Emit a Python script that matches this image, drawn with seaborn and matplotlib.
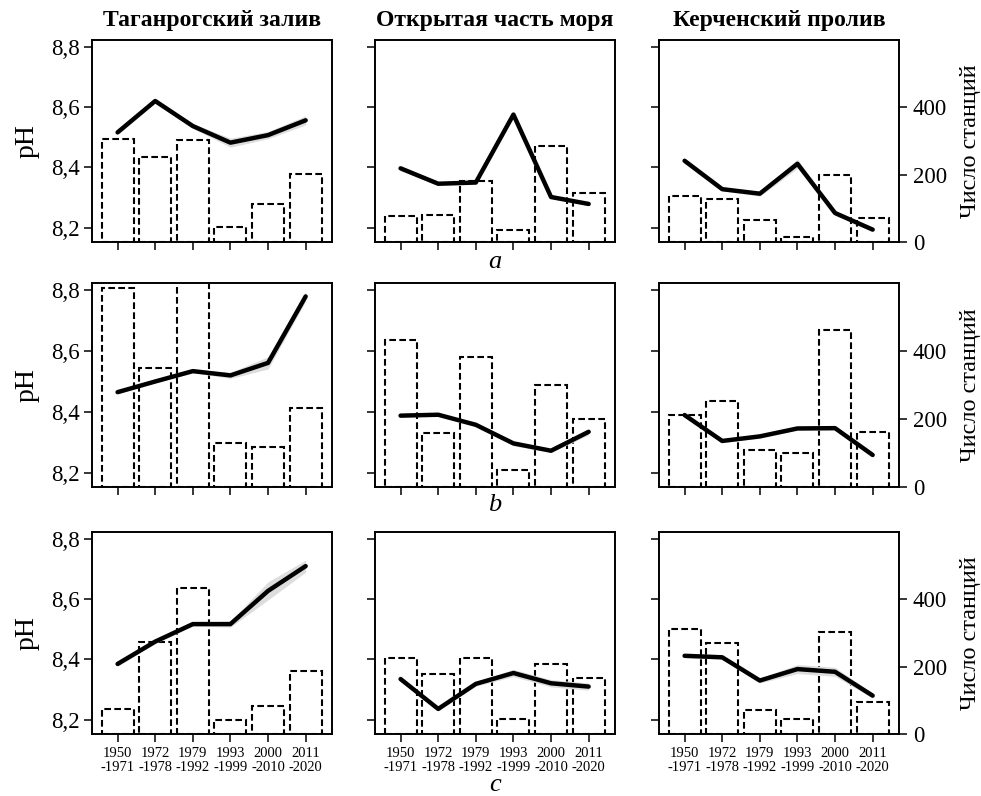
import numpy as np
import matplotlib
matplotlib.use("Agg")
import matplotlib.pyplot as plt
import seaborn as sns

# ---------------- data ----------------
periods = ["1950\n-1971", "1972\n-1978", "1979\n-1992",
           "1993\n-1999", "2000\n-2010", "2011\n-2020"]
regions = ["Таганрогский залив", "Открытая часть моря", "Керченский пролив"]
row_letters = ["a", "b", "c"]

# mean pH per period (row a / b / c, columns = regions)
ph_a_tag = [8.516, 8.620, 8.537, 8.482, 8.507, 8.556]
ph_a_open = [8.397, 8.346, 8.350, 8.575, 8.302, 8.279]
ph_a_kerch = [8.422, 8.328, 8.313, 8.412, 8.249, 8.194]
ph_b_tag = [8.464, 8.499, 8.533, 8.519, 8.560, 8.778]
ph_b_open = [8.387, 8.390, 8.357, 8.296, 8.272, 8.334]
ph_b_kerch = [8.389, 8.304, 8.319, 8.345, 8.346, 8.258]
ph_c_tag = [8.385, 8.459, 8.517, 8.517, 8.627, 8.709]
ph_c_open = [8.335, 8.236, 8.319, 8.355, 8.321, 8.310]
ph_c_kerch = [8.412, 8.407, 8.330, 8.368, 8.359, 8.280]

# half-width of the confidence band around the mean pH
ci_a_tag = [0.005, 0.005, 0.008, 0.015, 0.012, 0.015]
ci_a_open = [0.008, 0.006, 0.005, 0.006, 0.006, 0.005]
ci_a_kerch = [0.005, 0.006, 0.008, 0.015, 0.007, 0.005]
ci_b_tag = [0.004, 0.004, 0.005, 0.010, 0.020, 0.015]
ci_b_open = [0.004, 0.004, 0.005, 0.008, 0.006, 0.010]
ci_b_kerch = [0.004, 0.005, 0.006, 0.006, 0.006, 0.006]
ci_c_tag = [0.008, 0.006, 0.006, 0.010, 0.030, 0.020]
ci_c_open = [0.005, 0.006, 0.007, 0.012, 0.012, 0.012]
ci_c_kerch = [0.006, 0.006, 0.008, 0.015, 0.015, 0.008]

# number of stations per period
n_a_tag = [305, 251, 304, 44, 113, 202]
n_a_open = [78, 81, 180, 37, 286, 147]
n_a_kerch = [138, 129, 65, 15, 200, 72]
n_b_tag = [584, 351, 700, 128, 119, 231]
n_b_open = [432, 159, 382, 50, 301, 200]
n_b_kerch = [213, 254, 108, 101, 461, 163]
n_c_tag = [74, 273, 435, 41, 84, 188]
n_c_open = [225, 178, 225, 46, 207, 165]
n_c_kerch = [313, 270, 71, 44, 304, 96]

ph_yticks = [8.2, 8.4, 8.6, 8.8]
ph_yticklabels = ["8,2", "8,4", "8,6", "8,8"]
n_yticks = [0, 200, 400]
n_yticklabels = ["0", "200", "400"]

ph_grid = [[ph_a_tag, ph_a_open, ph_a_kerch],
           [ph_b_tag, ph_b_open, ph_b_kerch],
           [ph_c_tag, ph_c_open, ph_c_kerch]]
ci_grid = [[ci_a_tag, ci_a_open, ci_a_kerch],
           [ci_b_tag, ci_b_open, ci_b_kerch],
           [ci_c_tag, ci_c_open, ci_c_kerch]]
n_grid = [[n_a_tag, n_a_open, n_a_kerch],
          [n_b_tag, n_b_open, n_b_kerch],
          [n_c_tag, n_c_open, n_c_kerch]]

# ---------------- style ----------------
sns.set_theme(style="ticks", rc={
    "axes.edgecolor": "black", "axes.labelcolor": "black",
    "text.color": "black", "xtick.color": "black", "ytick.color": "black",
    "axes.linewidth": 1.2,
})
plt.rcParams['font.family'] = ['Liberation Serif', 'DejaVu Serif']

W, H = 981, 796
fig = plt.figure(figsize=(W / 100, H / 100), dpi=100)

lefts = [92, 375, 659]
width = 240
tops = [40, 283, 532]
bottoms = [242, 487, 734]

xpos = np.arange(len(periods))

for r in range(3):
    for c in range(3):
        ax = fig.add_axes([lefts[c] / W, 1 - bottoms[r] / H,
                           width / W, (bottoms[r] - tops[r]) / H])
        ax2 = ax.twinx()

        # bars: number of stations (right axis)
        sns.barplot(x=periods, y=n_grid[r][c], ax=ax2, fill=False,
                    color="black", width=0.85, linewidth=1.5,
                    linestyle=(0, (3.2, 1.6)))

        # line: mean pH (left axis)
        ph = np.array(ph_grid[r][c])
        ci = np.array(ci_grid[r][c])
        ax.fill_between(xpos, ph - ci, ph + ci, color="#dddddd", lw=0, zorder=1)
        sns.lineplot(x=xpos, y=ph, ax=ax, color="black", linewidth=3.2,
                     errorbar=None, zorder=3)

        ax.set_zorder(ax2.get_zorder() + 1)
        ax.patch.set_visible(False)

        ax.set_ylim(8.153, 8.822)
        ax.set_yticks(ph_yticks)
        ax2.set_ylim(0, 600)

        ax.set_xticks(xpos)
        ax.set_xlim(-0.68, 5.70)
        ax.tick_params(axis="both", length=6, width=1.1, direction="out",
                       labelsize=16.5, pad=3)
        if r == 2:
            ax.set_xticklabels(periods, fontsize=10.5, linespacing=1.1)
            ax.tick_params(axis="x", pad=3.5)
        else:
            ax.set_xticklabels([])
        ax.set_xlabel("")

        if c == 0:
            ax.set_yticklabels(ph_yticklabels)
            ax.set_ylabel("pH", fontsize=20, labelpad=8)
        else:
            ax.set_yticklabels([])
            ax.set_ylabel("")

        if c == 2:
            ax2.set_yticks(n_yticks)
            ax2.set_yticklabels(n_yticklabels)
            ax2.tick_params(axis="y", length=6, width=1.1, labelsize=16.5, pad=4)
            ax2.set_ylabel("Число станций", fontsize=17.5, labelpad=9)
        else:
            ax2.set_yticks([])
            ax2.set_ylabel("")

        for sp in list(ax.spines.values()) + list(ax2.spines.values()):
            sp.set_linewidth(1.2)
            sp.set_color("black")

        if r == 0:
            ax.set_title(regions[c], fontsize=17, fontweight="bold", pad=10)

letter_y = [262, 505, 785]
for r in range(3):
    fig.text(495 / W, 1 - letter_y[r] / H, row_letters[r], fontsize=19,
             style="italic", ha="center", va="center")

fig.savefig("out.png", dpi=100)
